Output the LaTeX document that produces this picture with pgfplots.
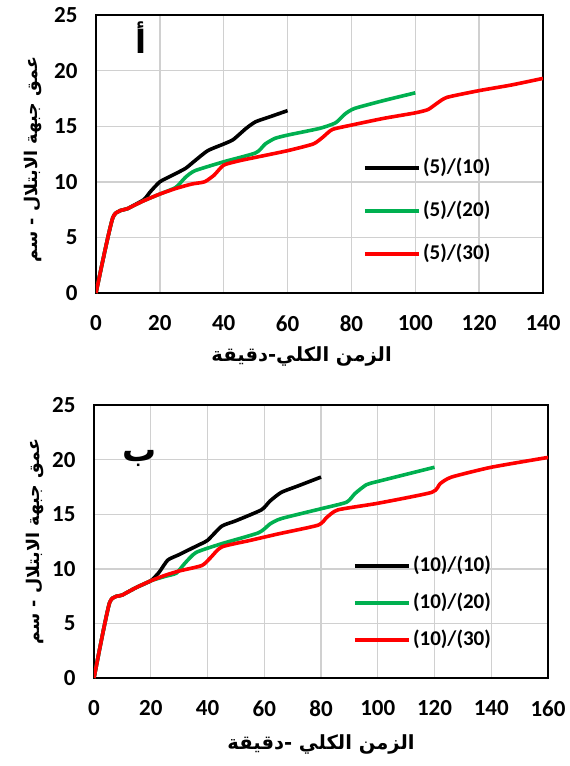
\documentclass[border=0pt]{standalone}
\usepackage{pgfplots}
\pgfplotsset{compat=1.18}
\usepackage{fontspec}
\setmainfont{Carlito}
\newfontfamily\arabicfont[Script=Arabic]{DejaVu Sans}
\TeXXeTstate=1
\definecolor{exgreen}{HTML}{00B050}
\definecolor{exred}{HTML}{FF0000}
\definecolor{gridgray}{HTML}{D0D0D0}
\pgfplotsset{
  myaxis/.style={
    scale only axis,
    anchor=south west,
    ymin=0, ymax=25, ytick={0,5,...,25},
    xmin=0,
    grid=major,
    major grid style={gridgray, line width=1.4pt},
    axis line style={black, line width=2.8pt},
    tick style={draw=none},
    /pgf/number format/assume math mode=true,
    ticklabel style={font=\fontsize{23}{25}\selectfont\bfseries},
    yticklabel style={xshift=-15pt},
    xticklabel style={yshift=-19pt},
    every axis plot/.append style={line width=3.6pt, smooth, tension=0.35},
    legend style={draw=none, fill=none, anchor=west, inner sep=0pt,
      font=\fontsize{21}{23}\selectfont\bfseries,
      nodes={inner ysep=1pt, inner xsep=2.5pt, text height=15pt, text depth=4pt},
      cells={anchor=west}},
    legend image code/.code={\draw[#1] (0pt,0pt) -- (54pt,0pt);},
  }
}
\begin{document}
\begin{tikzpicture}
\useasboundingbox (0,0) rectangle (570pt,-766pt);
% ---------- top (a) ----------
\begin{axis}[myaxis,
  at={(96pt,-293pt)}, width=447pt, height=278pt,
  xmax=140, xtick={0,20,...,140},
  xlabel={\arabicfont\bfseries\fontsize{19.5}{21}\selectfont\beginR الزمن الكلي-دقيقة\endR},
  xlabel style={at={(axis description cs:0.46,-0.23)}, anchor=center},
  ylabel={\arabicfont\bfseries\fontsize{17.5}{21}\selectfont\beginR عمق جبهة الابتلال - سم\endR},
  ylabel style={at={(axis description cs:-0.141,0.48)}, anchor=center},
  legend style={at={(axis description cs:0.597,0.295)}, row sep=22pt},
]
\addplot[black] coordinates {(0,0) (5.3,6.8) (10,7.6) (15,8.4) (17,9.1) (20,10.0) (24,10.6) (28,11.2) (31,11.9) (35,12.8) (40,13.4) (43,13.8) (47,14.8) (50,15.4) (55,15.9) (60,16.4)};
\addlegendentry{(5)/(10)}
\addplot[exgreen] coordinates {(0,0) (5.3,6.8) (10,7.6) (15,8.3) (20,8.9) (25,9.5) (28,10.4) (31,11.0) (40,11.8) (50,12.6) (53,13.4) (56,13.9) (60,14.2) (70,14.8) (75,15.3) (78,16.1) (81,16.6) (90,17.3) (100,18.0)};
\addlegendentry{(5)/(20)}
\addplot[exred] coordinates {(0,0) (5.3,6.8) (10,7.6) (15,8.3) (20,8.9) (25,9.4) (30,9.8) (34,10.0) (37,10.6) (40,11.5) (45,11.9) (50,12.2) (60,12.8) (68,13.4) (71,14.0) (74,14.7) (80,15.1) (90,15.7) (100,16.2) (104,16.5) (107,17.1) (110,17.6) (120,18.2) (130,18.7) (140,19.3)};
\addlegendentry{(5)/(30)}
\node[font=\arabicfont\bfseries\fontsize{32}{34}\selectfont] at (axis cs:14,23) {\beginR أ\endR};
\end{axis}
% ---------- bottom (b) ----------
\begin{axis}[myaxis,
  at={(94pt,-678pt)}, width=454pt, height=273pt,
  xmax=160, xtick={0,20,...,160},
  xlabel={\arabicfont\bfseries\fontsize{19.5}{21}\selectfont\beginR الزمن الكلي -دقيقة\endR},
  xlabel style={at={(axis description cs:0.5,-0.245)}, anchor=center},
  ylabel={\arabicfont\bfseries\fontsize{17.5}{21}\selectfont\beginR عمق جبهة الابتلال - سم\endR},
  ylabel style={at={(axis description cs:-0.13,0.5)}, anchor=center},
  legend style={at={(axis description cs:0.57,0.275)}, row sep=16pt},
]
\addplot[black] coordinates {(0,0) (5.5,6.9) (10,7.6) (15,8.3) (20,8.9) (23,9.7) (26,10.8) (30,11.3) (37,12.2) (40,12.6) (45,13.9) (50,14.4) (59,15.4) (62,16.2) (66,17.0) (72,17.6) (80,18.4)};
\addlegendentry{(10)/(10)}
\addplot[exgreen] coordinates {(0,0) (5.5,6.9) (10,7.6) (15,8.3) (20,8.9) (25,9.3) (29,9.6) (32,10.5) (36,11.5) (45,12.3) (58,13.3) (62,14.1) (66,14.6) (80,15.5) (89,16.1) (92,16.9) (96,17.7) (100,18.0) (120,19.3)};
\addlegendentry{(10)/(20)}
\addplot[exred] coordinates {(0,0) (5.5,6.9) (10,7.6) (15,8.3) (20,8.9) (25,9.4) (30,9.8) (38,10.3) (41,11.0) (45,12.0) (55,12.6) (65,13.2) (79,14.0) (82,14.7) (86,15.4) (100,16.0) (119,17.0) (122,17.8) (126,18.4) (140,19.3) (160,20.2)};
\addlegendentry{(10)/(30)}
\node[font=\arabicfont\bfseries\fontsize{34}{36}\selectfont] at (axis cs:16.2,20.1) {\beginR ب\endR};
\end{axis}
\end{tikzpicture}
\end{document}
